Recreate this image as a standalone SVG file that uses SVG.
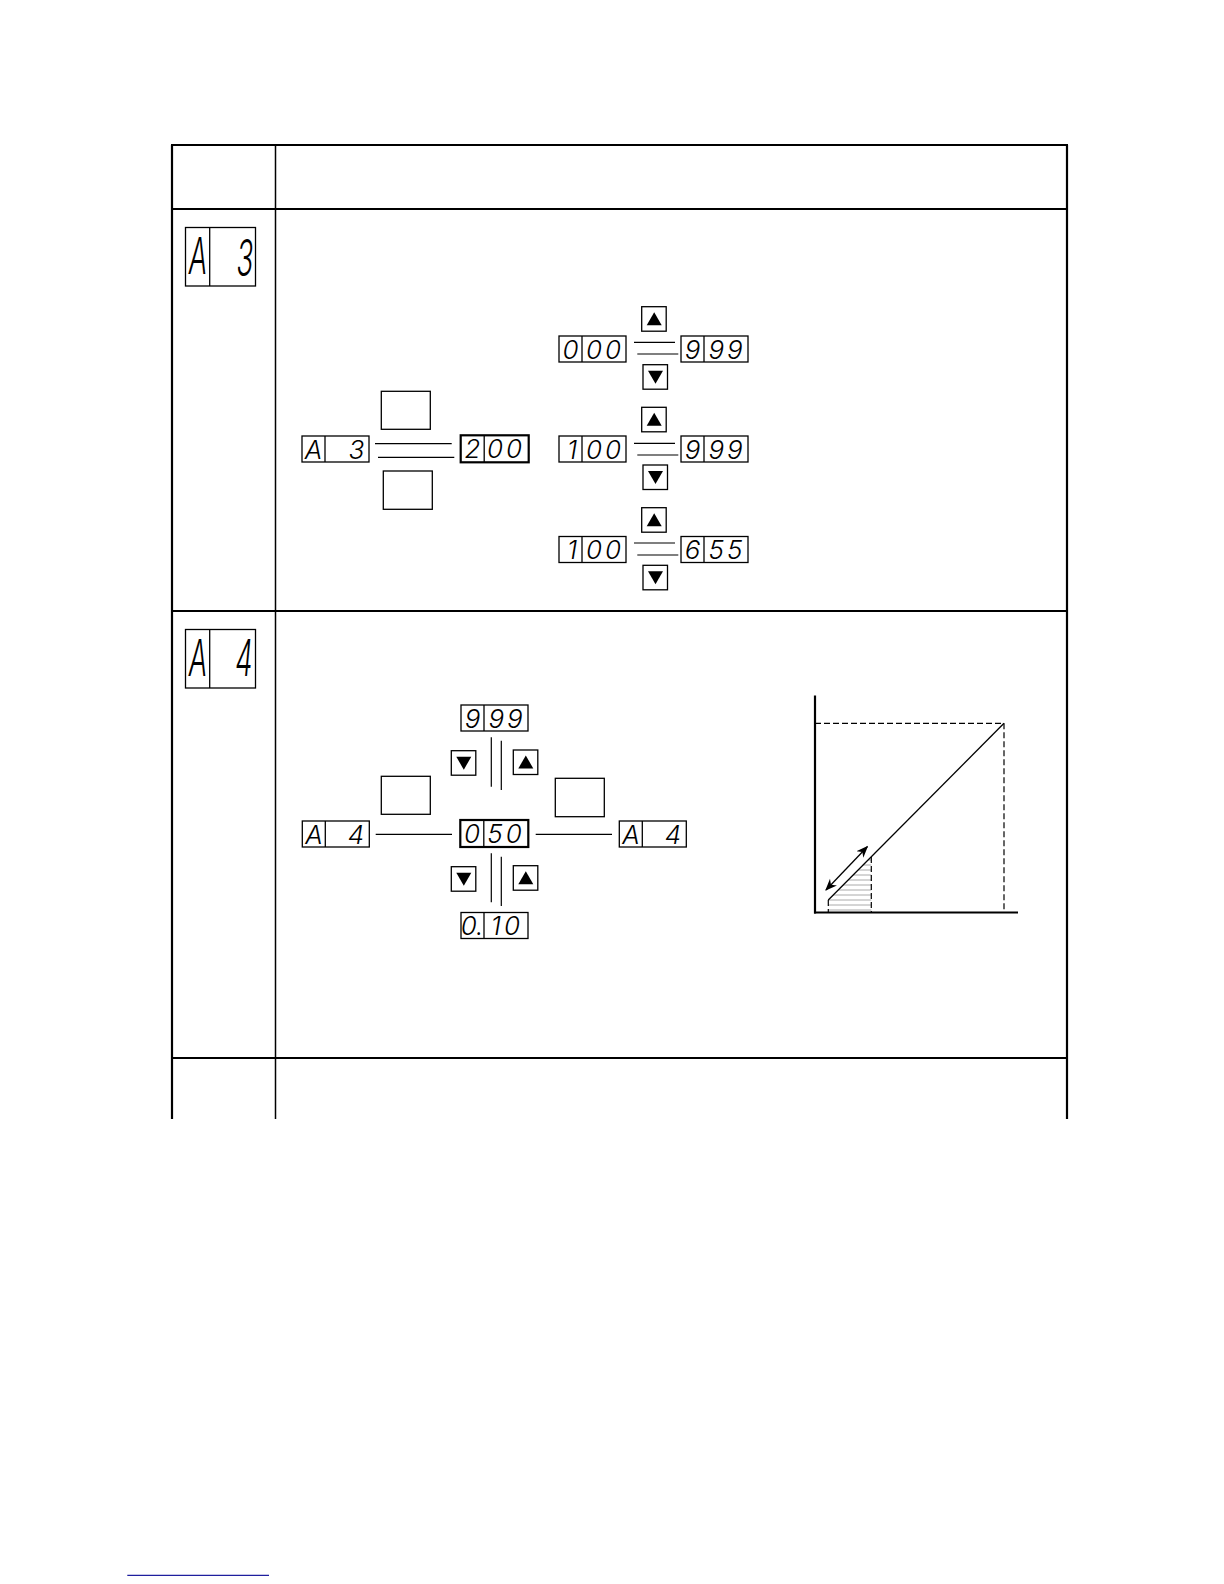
<svg xmlns="http://www.w3.org/2000/svg" width="1224" height="1584" viewBox="0 0 1224 1584">
<style>
.t{fill:none;stroke:#000;stroke-width:1.3}
.tk{fill:none;stroke:#000;stroke-width:2.2}
.ln{stroke:#000;stroke-width:1.2;fill:none}
.d{font-family:Inter,"Liberation Sans",sans-serif;font-weight:300;font-style:italic;font-size:26px;fill:#000;text-anchor:middle}
.big{font-family:Inter,"Liberation Sans",sans-serif;font-weight:300;font-style:italic;font-size:50px;fill:#000;text-anchor:middle}
.dash{stroke:#000;stroke-width:1.2;stroke-dasharray:6,3;fill:none}
.hatch{stroke:#aaa;stroke-width:1}
</style>
<defs>
<g id="disp"><rect class="t" x="0" y="0" width="67" height="26"/><line class="t" x1="23" y1="0" x2="23" y2="26"/></g>
<g id="dispT"><rect class="tk" x="0" y="0" width="68" height="27"/><line class="t" x1="23.5" y1="0" x2="23.5" y2="27"/></g>
<g id="up"><rect class="t" x="0" y="0" width="24.5" height="24.5"/><polygon points="5,18.5 20,18.5 12.5,5.5" fill="#000"/></g>
<g id="dn"><rect class="t" x="0" y="0" width="24.5" height="24.5"/><polygon points="5,6 20,6 12.5,19" fill="#000"/></g>
<marker id="ah" viewBox="0 0 10 10" refX="9" refY="5" markerWidth="12" markerHeight="12" markerUnits="userSpaceOnUse" orient="auto-start-reverse"><path d="M0,1 L10,5 L0,9 L3,5 z" fill="#000"/></marker>
</defs>

<g id="table">
<line class="tk" x1="171" y1="145" x2="1068" y2="145"/>
<line class="tk" x1="172" y1="145" x2="172" y2="1119"/>
<line class="tk" x1="1067" y1="145" x2="1067" y2="1119"/>
<line x1="172" y1="209" x2="1067" y2="209" stroke="#000" stroke-width="2"/>
<line x1="172" y1="611" x2="1067" y2="611" stroke="#000" stroke-width="2"/>
<line x1="172" y1="1058" x2="1067" y2="1058" stroke="#000" stroke-width="2"/>
<line x1="275.5" y1="145" x2="275.5" y2="1119" stroke="#000" stroke-width="1.5"/>
</g>

<g id="icon-a3">
<rect class="t" x="185.5" y="227.5" width="70" height="58.5"/>
<line class="t" x1="209.7" y1="227.5" x2="209.7" y2="286"/>
<text class="big" transform="translate(198,274) scale(0.55,1)">A</text>
<text class="big" transform="translate(245,276) scale(0.55,1)">3</text>
</g>

<g id="icon-a4">
<rect class="t" x="185.5" y="629.5" width="70" height="58.5"/>
<line class="t" x1="209.7" y1="629.5" x2="209.7" y2="688"/>
<text class="big" transform="translate(198,676) scale(0.55,1)">A</text>
<text class="big" transform="translate(244,676) scale(0.55,1)">4</text>
</g>

<g id="connectors">
<line class="ln" x1="375" y1="443.7" x2="451.7" y2="443.7"/>
<line class="ln" x1="378" y1="457.3" x2="454.3" y2="457.3"/>
<line class="ln" x1="634" y1="342.3" x2="675" y2="342.3"/>
<line class="ln" x1="637.3" y1="354" x2="678.3" y2="354"/>
<line class="ln" x1="634" y1="443.3" x2="675" y2="443.3"/>
<line class="ln" x1="637.3" y1="455" x2="678.3" y2="455"/>
<line class="ln" x1="634" y1="543" x2="675" y2="543"/>
<line class="ln" x1="637.3" y1="555" x2="678.3" y2="555"/>
<line class="ln" x1="491.3" y1="737.3" x2="491.3" y2="786.7"/>
<line class="ln" x1="501.3" y1="740.7" x2="501.3" y2="790"/>
<line class="ln" x1="491.3" y1="853.3" x2="491.3" y2="902.3"/>
<line class="ln" x1="501.3" y1="856.7" x2="501.3" y2="906"/>
<line class="ln" x1="375.7" y1="834.3" x2="452" y2="834.3"/>
<line class="ln" x1="535.7" y1="834.3" x2="612" y2="834.3"/>
</g>

<g id="a3-disp">
<use href="#disp" x="302" y="436"/>
<text class="d" x="313.5" y="458.5">A</text>
<text class="d" x="356.5" y="458.5">3</text>
</g>
<g id="a3-box-top"><rect class="t" x="381.3" y="391.3" width="49" height="38"/></g>
<g id="a3-box-bot"><rect class="t" x="383.3" y="471" width="49" height="38.3"/></g>
<g id="disp-200">
<use href="#dispT" x="460.7" y="435.3"/>
<text class="d" x="472.5" y="458">2</text>
<text class="d" x="506" y="458" letter-spacing="3">00</text>
</g>

<g id="row1">
<use href="#up" x="641.7" y="306.7"/>
<use href="#disp" x="559" y="336"/>
<text class="d" x="570.5" y="358.5">0</text>
<text class="d" x="605" y="358.5" letter-spacing="3">00</text>
<use href="#disp" x="681" y="336"/>
<text class="d" x="692.5" y="358.5">9</text>
<text class="d" x="727" y="358.5" letter-spacing="3">99</text>
<use href="#dn" x="643" y="364.7"/>
</g>
<g id="row2">
<use href="#up" x="641.7" y="407.3"/>
<use href="#disp" x="559" y="436"/>
<text class="d" x="572" y="458.5">1</text>
<text class="d" x="605" y="458.5" letter-spacing="3">00</text>
<use href="#disp" x="681" y="436"/>
<text class="d" x="692.5" y="458.5">9</text>
<text class="d" x="727" y="458.5" letter-spacing="3">99</text>
<use href="#dn" x="643" y="465"/>
</g>
<g id="row3">
<use href="#up" x="641.7" y="507.7"/>
<use href="#disp" x="559" y="536.5"/>
<text class="d" x="572" y="559">1</text>
<text class="d" x="605" y="559" letter-spacing="3">00</text>
<use href="#disp" x="681" y="536.5"/>
<text class="d" x="692.5" y="559">6</text>
<text class="d" x="727" y="559" letter-spacing="3">55</text>
<use href="#dn" x="643" y="565.3"/>
</g>

<g id="a4-999">
<use href="#disp" x="461" y="705"/>
<text class="d" x="472.5" y="727.5">9</text>
<text class="d" x="507" y="727.5" letter-spacing="3">99</text>
</g>
<g id="a4-btn-dn1"><use href="#dn" x="451.3" y="750.7"/></g>
<g id="a4-btn-up1"><use href="#up" x="513.3" y="750"/></g>
<g id="a4-box-left"><rect class="t" x="381.3" y="776.3" width="49" height="38"/></g>
<g id="a4-box-right"><rect class="t" x="555.3" y="778.3" width="49" height="38.4"/></g>
<g id="a4-left">
<use href="#disp" x="302.3" y="821"/>
<text class="d" x="314" y="843.5">A</text>
<text class="d" x="356" y="843.5">4</text>
</g>
<g id="disp-050">
<use href="#dispT" x="460.3" y="820"/>
<text class="d" x="472" y="843">0</text>
<text class="d" x="506" y="843" letter-spacing="3">50</text>
</g>
<g id="a4-right">
<use href="#disp" x="619.3" y="821"/>
<text class="d" x="631" y="843.5">A</text>
<text class="d" x="673" y="843.5">4</text>
</g>
<g id="a4-btn-dn2"><use href="#dn" x="451.3" y="866.7"/></g>
<g id="a4-btn-up2"><use href="#up" x="513.3" y="865.7"/></g>
<g id="a4-010">
<use href="#disp" x="461" y="912.5"/>
<text class="d" x="472" y="935">0.</text>
<text class="d" x="507" y="935" letter-spacing="3">10</text>
</g>

<g id="graph">
<line class="hatch" x1="868.3" y1="860" x2="871.3" y2="860"/>
<line class="hatch" x1="863.3" y1="865" x2="871.3" y2="865"/>
<line class="hatch" x1="858.3" y1="870" x2="871.3" y2="870"/>
<line class="hatch" x1="853.3" y1="875" x2="871.3" y2="875"/>
<line class="hatch" x1="848.3" y1="880" x2="871.3" y2="880"/>
<line class="hatch" x1="843.3" y1="885" x2="871.3" y2="885"/>
<line class="hatch" x1="838.3" y1="890" x2="871.3" y2="890"/>
<line class="hatch" x1="833.3" y1="895" x2="871.3" y2="895"/>
<line class="hatch" x1="828.3" y1="900" x2="871.3" y2="900"/>
<line class="hatch" x1="828.3" y1="905" x2="871.3" y2="905"/>
<line class="hatch" x1="828.3" y1="910" x2="871.3" y2="910"/>
<line class="dash" x1="815" y1="723.3" x2="1004" y2="723.3"/>
<line class="dash" x1="1004" y1="723.3" x2="1004" y2="912"/>
<line class="dash" x1="828.3" y1="900" x2="828.3" y2="912"/>
<line class="dash" x1="871.3" y1="857" x2="871.3" y2="912"/>
<line x1="828.3" y1="900" x2="1004" y2="723.3" stroke="#000" stroke-width="1.3"/>
<line x1="826" y1="890" x2="867.3" y2="846.7" stroke="#000" stroke-width="1.3" marker-start="url(#ah)" marker-end="url(#ah)"/>
<line x1="815" y1="695.5" x2="815" y2="913.5" stroke="#000" stroke-width="2.2"/>
<line x1="814" y1="912.5" x2="1018" y2="912.5" stroke="#000" stroke-width="2.2"/>
</g>

<line x1="127.3" y1="1575.3" x2="269" y2="1575.3" stroke="#1f1f9e" stroke-width="1.3"/>
</svg>
